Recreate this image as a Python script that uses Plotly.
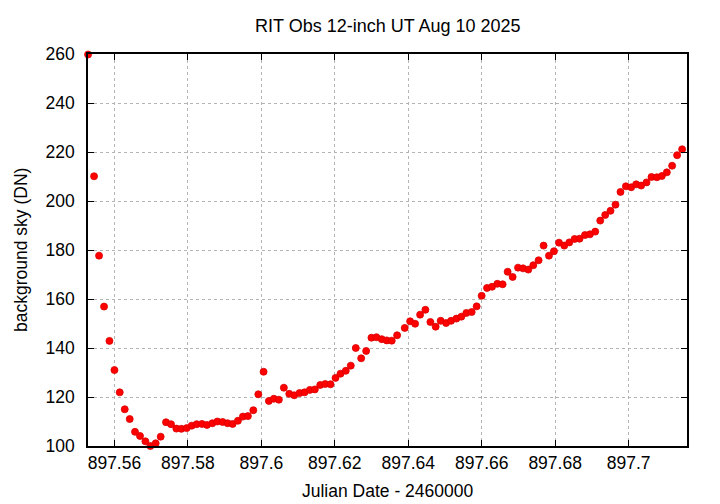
import plotly.graph_objects as go

title_text = "RIT Obs 12-inch UT Aug 10 2025"
x_label = "Julian Date - 2460000"
y_label = "background sky (DN)"

jd = [
    897.55282, 897.55445, 897.55581, 897.55717, 897.55864, 897.56000, 897.56144, 897.56280,
    897.56416, 897.56560, 897.56696, 897.56843, 897.56979, 897.57123, 897.57259, 897.57404,
    897.57540, 897.57686, 897.57822, 897.57967, 897.58103, 897.58239, 897.58383, 897.58519,
    897.58666, 897.58802, 897.58946, 897.59082, 897.59218, 897.59362, 897.59498, 897.59634,
    897.59781, 897.59917, 897.60061, 897.60205, 897.60341, 897.60477, 897.60613, 897.60760,
    897.60896, 897.61040, 897.61176, 897.61320, 897.61456, 897.61603, 897.61739, 897.61883,
    897.62019, 897.62155, 897.62299, 897.62435, 897.62571, 897.62718, 897.62854, 897.62998,
    897.63134, 897.63279, 897.63415, 897.63551, 897.63697, 897.63904, 897.64051, 897.64187,
    897.64323, 897.64467, 897.64603, 897.64747, 897.64883, 897.65030, 897.65166, 897.65311,
    897.65447, 897.65582, 897.65727, 897.65863, 897.65999, 897.66145, 897.66281, 897.66426,
    897.66570, 897.66706, 897.66842, 897.66989, 897.67125, 897.67269, 897.67405, 897.67549,
    897.67685, 897.67832, 897.67968, 897.68104, 897.68248, 897.68384, 897.68528, 897.68664,
    897.68811, 897.68947, 897.69091, 897.69227, 897.69363, 897.69507, 897.69643, 897.69779,
    897.69926, 897.70070, 897.70206, 897.70342, 897.70487, 897.70623, 897.70769, 897.70905,
    897.71041, 897.71185, 897.71321, 897.71457,
]

sky = [
    259.8, 210.1, 177.7, 156.9, 142.9, 131.0, 121.9, 115.0,
    111.0, 105.8, 104.1, 101.9, 100.0, 101.1, 103.8, 109.7,
    108.9, 107.1, 107.0, 107.3, 108.3, 108.9, 109.0, 108.6,
    109.3, 110.0, 109.8, 109.3, 109.0, 110.3, 112.0, 112.2,
    114.6, 121.1, 130.3, 118.4, 119.3, 118.9, 123.8, 121.3,
    120.7, 121.6, 121.9, 122.9, 123.1, 124.9, 125.3, 125.2,
    127.8, 129.5, 130.7, 132.8, 140.0, 135.8, 138.8, 144.2,
    144.4, 143.6, 143.1, 143.0, 145.2, 148.2, 150.9, 149.9,
    153.6, 155.6, 150.6, 148.7, 151.1, 150.2, 151.1, 152.0,
    152.8, 154.3, 154.7, 157.0, 161.3, 164.5, 165.0, 166.2,
    166.0, 171.1, 169.0, 172.8, 172.5, 172.0, 173.8, 175.8,
    181.8, 177.7, 179.5, 183.0, 181.8, 183.1, 184.5, 184.6,
    186.1, 186.4, 187.5, 192.0, 194.3, 196.0, 198.5, 203.7,
    206.0, 205.6, 206.8, 206.3, 207.6, 209.8, 209.7, 210.2,
    211.7, 214.4, 218.7, 221.1,
]

x_ticks = [897.56, 897.58, 897.60, 897.62, 897.64, 897.66, 897.68, 897.70]
x_tick_text = ["897.56", "897.58", "897.6", "897.62", "897.64", "897.66", "897.68", "897.7"]
y_ticks = [100, 120, 140, 160, 180, 200, 220, 240, 260]

FONT = "Liberation Sans, Arial, sans-serif"
FS = 17.5

fig = go.Figure()
fig.add_trace(go.Scatter(
    x=jd, y=sky, mode="markers",
    marker=dict(color="#ff0000", size=7, line=dict(color="#d80000", width=0.8)),
    cliponaxis=False, showlegend=False,
))

axis_common = dict(
    showline=True, linecolor="black", linewidth=1.5, mirror="ticks",
    ticks="inside", ticklen=6, tickcolor="black", tickwidth=1,
    showgrid=True, gridcolor="#b4b4b4", griddash="dot", gridwidth=1,
    zeroline=False, automargin=False,
    tickfont=dict(family=FONT, size=FS, color="black"),
)

fig.update_xaxes(range=[897.5528, 897.7159], tickvals=x_ticks, ticktext=x_tick_text,
                 ticklabelstandoff=0, **axis_common)
fig.update_yaxes(range=[100, 260], tickvals=y_ticks, ticklabelstandoff=8, **axis_common)

# the page body has an 8px default margin, so the margins are offset to compensate
fig.update_layout(
    width=720, height=504,
    margin=dict(l=80, r=41, t=46, b=66),
    paper_bgcolor="white", plot_bgcolor="white",
    font=dict(family=FONT, size=FS, color="black"),
    annotations=[
        dict(text=title_text, xref="paper", yref="paper", x=0.5, y=1 + 28 / 392,
             xanchor="center", yanchor="middle", showarrow=False,
             font=dict(family=FONT, size=18, color="black")),
        dict(text=x_label, xref="paper", yref="paper", x=0.5, y=-45 / 392,
             xanchor="center", yanchor="middle", showarrow=False,
             font=dict(family=FONT, size=FS, color="black")),
        dict(text=y_label, xref="paper", yref="paper", x=-67 / 599, y=0.5,
             xanchor="center", yanchor="middle", textangle=-90, showarrow=False,
             font=dict(family=FONT, size=FS, color="black")),
    ],
)

fig.write_html("out.html")
